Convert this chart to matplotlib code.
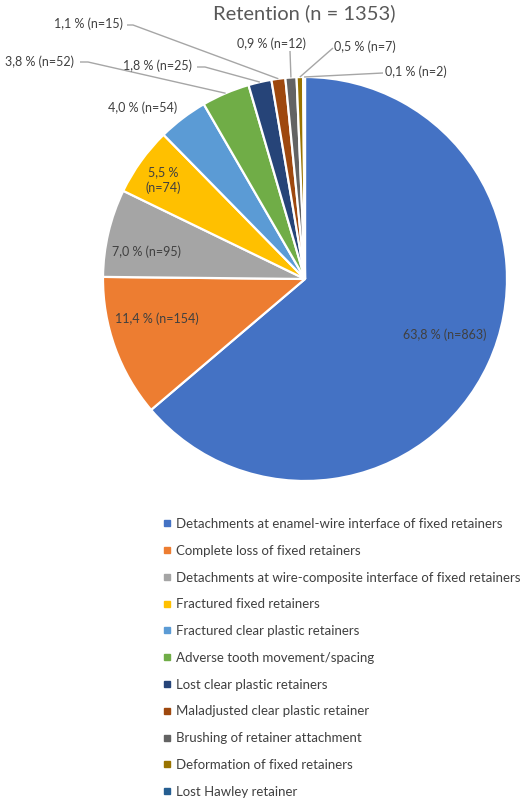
import matplotlib
matplotlib.use("Agg")
import matplotlib.pyplot as plt
from matplotlib.lines import Line2D
import numpy as np

# ---------------- data ----------------
categories = [
    "Detachments at enamel-wire interface of fixed retainers",
    "Complete loss of fixed retainers",
    "Detachments at wire-composite interface of fixed retainers",
    "Fractured fixed retainers",
    "Fractured clear plastic retainers",
    "Adverse tooth movement/spacing",
    "Lost clear plastic retainers",
    "Maladjusted clear plastic retainer",
    "Brushing of retainer attachment",
    "Deformation of fixed retainers",
    "Lost Hawley retainer",
]
counts = [863, 154, 95, 74, 54, 52, 25, 15, 12, 7, 2]
title = "Retention (n = 1353)"

# ---------------- style ----------------
colors = ["#4472C4", "#ED7D31", "#A5A5A5", "#FFC000", "#5B9BD5", "#70AD47",
          "#264478", "#9E480E", "#636363", "#997300", "#255E91"]
FONT = ["Lato", "DejaVu Sans"]
TXT = "#404040"
LEADER = "#A6A6A6"

W, H = 524, 800
CX, CY, R = 305, 279, 202  # pie centre/radius in pixels


def px(x, y):
    return ((x - CX) / R, (CY - y) / R)


fig = plt.figure(figsize=(W / 100, H / 100), dpi=100)
ax = fig.add_axes([0, 0, 1, 1])
wedges, _ = ax.pie(counts, colors=colors, startangle=90, counterclock=False,
                   radius=1, center=(0, 0),
                   wedgeprops=dict(edgecolor="white", linewidth=1.6))
ax.set_xlim(-CX / R, (W - CX) / R)
ax.set_ylim((CY - H) / R, CY / R)
ax.set_aspect("equal")
ax.axis("off")

total = sum(counts)
labels = [f"{c / total * 100:.1f}".replace(".", ",") + f" % (n={c})" for c in counts]
labels[3] = labels[3].replace(" (", "\n(")

# label layout: (text centre px, leader path px or None)
layout = [
    ((445, 335), None),
    ((157, 319), None),
    ((147, 252), None),
    ((163, 180), None),
    ((143, 108), None),
    ((40, 62), [(80, 62), (88, 62)]),
    ((158, 66), [(197, 67), (205, 67)]),
    ((89, 24), [(127, 25), (133, 25)]),
    ((272, 44), [(290, 51)]),
    ((365, 47), [(333, 48)]),
    ((416, 72), [(383, 73)]),
]

for w, lab, (pos, path) in zip(wedges, labels, layout):
    x, y = px(*pos)
    ax.text(x, y, lab, ha="center", va="center", fontsize=9, color=TXT,
            family=FONT, linespacing=1.25)
    if path is not None:
        mid = np.deg2rad((w.theta1 + w.theta2) / 2)
        pts = [px(*p) for p in path] + [(np.cos(mid) * 1.0, np.sin(mid) * 1.0)]
        xs, ys = zip(*pts)
        ax.plot(xs, ys, color=LEADER, lw=1.0, solid_capstyle="butt")

fig.text(304 / W, 1 - 13 / H, title, ha="center", va="center", fontsize=14.5,
         color="#595959", family=FONT)

handles = [Line2D([], [], marker="s", ls="none", markersize=4.6,
                  markerfacecolor=c, markeredgecolor=c) for c in colors]
leg = fig.legend(handles, categories, loc="upper left",
                 bbox_to_anchor=(163 / W, 1 - 518 / H), frameon=False,
                 handlelength=0.6, handletextpad=0.35,
                 labelspacing=1.12, borderpad=0, borderaxespad=0,
                 prop=dict(family=FONT, size=9.5))
for t in leg.get_texts():
    t.set_color(TXT)

fig.savefig("out.png", dpi=100)
